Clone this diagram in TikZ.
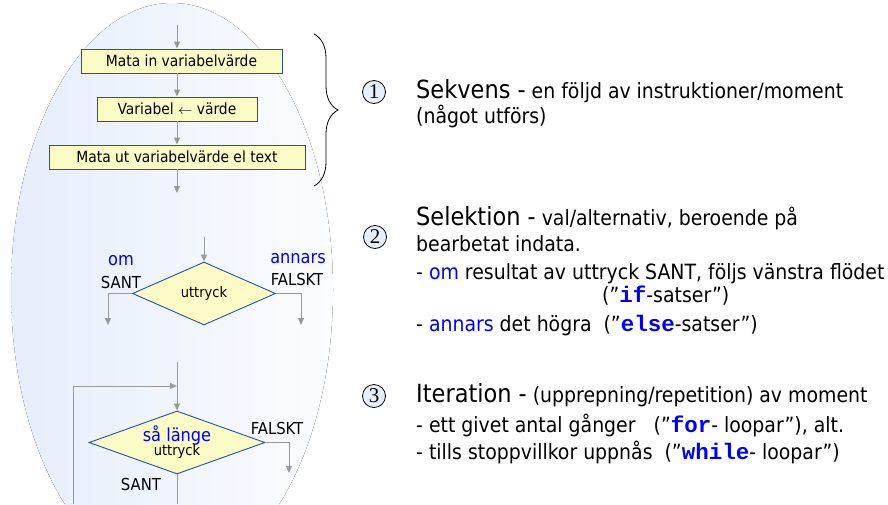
\documentclass[tikz,border=0pt]{standalone}
\usepackage{fontspec}
\setmainfont{DejaVu Sans Condensed}
\setmonofont{Liberation Mono}
\newfontfamily\numfont{Liberation Serif}
\usetikzlibrary{shapes.geometric, arrows.meta, positioning, decorations.pathreplacing}
\definecolor{boxfill}{HTML}{FBFBC6}
\definecolor{boxline}{HTML}{2A4DA8}
\definecolor{flowgray}{HTML}{9A9A9A}
\definecolor{kwblue}{HTML}{0000FF}
\definecolor{bgblue}{HTML}{E5EEFB}
\definecolor{bgwhite}{HTML}{FBFCFF}
\definecolor{numfill}{HTML}{E6EFFC}
\newcommand\kw[1]{\textcolor{kwblue}{#1}}
\newcommand\kwcode[1]{\textcolor{kwblue}{\fontsize{22.5}{24}\ttfamily\bfseries #1}}
\tikzset{procbox/.style={draw=boxline, fill=boxfill, line width=0.9pt, minimum height=24pt, inner sep=0pt, font=\fontsize{15.4}{17}\selectfont}}
\tikzset{decision/.style={diamond, draw=boxline, fill=boxfill, line width=0.9pt, inner sep=0pt, align=center, font=\fontsize{14.5}{16}\selectfont}}
\tikzset{flow/.style={draw=flowgray, line width=1pt, -{Triangle[width=6pt,length=7pt]}}}
\tikzset{flowline/.style={draw=flowgray, line width=1pt}}
\tikzset{stepnum/.style={circle, draw=black, fill=numfill, line width=0.8pt, minimum size=23pt, inner sep=0pt, font=\fontsize{21}{21}\numfont}}
\tikzset{title/.style={anchor=base west, inner sep=0pt, font=\fontsize{25}{28}\selectfont}}
\tikzset{body/.style={anchor=base west, inner sep=0pt, font=\fontsize{21}{24}\selectfont}}
\tikzset{branch/.style={inner sep=0pt, font=\fontsize{16.5}{18}\selectfont}}
\tikzset{branchkw/.style={inner sep=0pt, text=kwblue, font=\fontsize{18}{20}\selectfont}}

\begin{document}
\begin{tikzpicture}[x=1pt, y=-1pt]
\useasboundingbox (0,0) rectangle (888,504);
\clip (0,0) rectangle (888,504);
\fill[left color=bgblue, right color=bgwhite] (172,290) ellipse [x radius=161pt, y radius=287pt];

% sekvens
\coordinate (seqin) at (177,25);
\node[procbox, minimum width=201pt] (readval) at (181.5,61) {Mata in variabelvärde};
\node[procbox, minimum width=160pt] (assign) at (177,109) {Variabel $\leftarrow$ värde};
\node[procbox, minimum width=256pt] (writeval) at (177,157) {Mata ut variabelvärde el text};
\coordinate (seqout) at (177,193);
\draw[flow] (seqin) -- (seqin|-readval.north);
\draw[flow] (assign.north|-readval.south) -- (assign);
\draw[flow] (assign) -- (writeval);
\draw[flow] (writeval.south-|seqout) -- (seqout);
\draw[decorate, decoration={brace, amplitude=24pt}, line width=0.8pt] (314,34) -- (314,186);

% selektion
\coordinate (selin) at (204,237);
\node[decision, minimum width=143pt, minimum height=63pt, aspect=2.27] (ifcond) at (204,293.5) {uttryck};
\coordinate (trueout) at (108,325);
\coordinate (falseout) at (301,325);
\draw[flow] (selin) -- (ifcond.north);
\draw[flow] (ifcond.west) -| (trueout);
\draw[flow] (ifcond.east) -| (falseout);
\node[branchkw] (omlbl) at (121,261) {om};
\node[branch] (santlbl) at (121,282) {SANT};
\node[branchkw] (annarslbl) at (298,259) {annars};
\node[branch] (falsktlbl) at (297,279) {FALSKT};

% iteration
\coordinate (loopin) at (177,362);
\coordinate (loopjoin) at (177,386);
\coordinate (loopback) at (73,504);
\node[decision, minimum width=176pt, minimum height=63pt, aspect=2.8] (whilecond) at (177,442.5) {\kw{\fontsize{18}{19}\selectfont så länge}\\[-2pt]uttryck};
\coordinate (loopexit) at (289,473);
\coordinate (loopbody) at (177,504);
\draw[flow] (loopin) -- (whilecond.north);
\draw[flow] (loopback) |- (loopjoin);
\draw[flow] (whilecond.east) -| (loopexit);
\draw[flowline] (whilecond.south) -- (loopbody);
\node[branch] (falskt3) at (277,428) {FALSKT};
\node[branch] (sant3) at (141,484) {SANT};

% forklaringar
\node[stepnum] (num1) at (374,92) {1};
\node[title] (sekvens) at (416,98) {Sekvens -\fontsize{21}{24}\selectfont\ en följd av instruktioner/moment};
\node[body] (sekvens2) at (416,123) {(något utförs)};

\node[stepnum] (num2) at (375,237) {2};
\node[title] (selektion) at (416,225) {Selektion -\fontsize{21}{24}\selectfont\ val/alternativ, beroende på};
\node[body] (sel2) at (416,251) {bearbetat indata.};
\node[body] (sel3) at (416,279) {- \kw{om} resultat av uttryck SANT, följs vänstra flödet};
\node[body] (sel4) at (602,302) {(”\kwcode{if}-satser”)};
\node[body] (sel5) at (416,331) {- \kw{annars} det högra\ \ (”\kwcode{else}-satser”)};

\node[stepnum] (num3) at (374,396) {3};
\node[title] (iteration) at (416,402) {Iteration -\fontsize{21}{24}\selectfont\ (upprepning/repetition) av moment};
\node[body] (it2) at (416,432) {- ett givet antal gånger\ \ \ (”\kwcode{for}- loopar”), alt.};
\node[body] (it3) at (416,459) {- tills stoppvillkor uppnås\ \ (”\kwcode{while}- loopar”)};
\end{tikzpicture}
\end{document}
